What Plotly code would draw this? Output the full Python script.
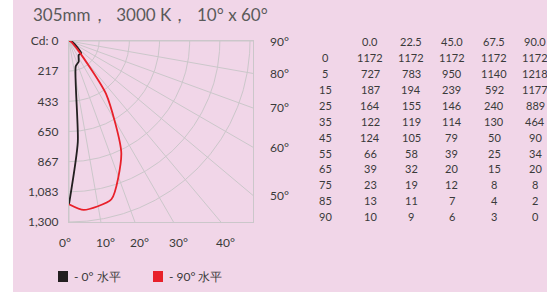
import numpy as np
import plotly.graph_objects as go

# ---------------- data ----------------
title_text = "305mm，  3000 K，  10° x 60°"
angles = [0, 5, 15, 25, 35, 45, 55, 65, 75, 85, 90]
planes = ["0.0", "22.5", "45.0", "67.5", "90.0"]
cd_0 = [1172, 727, 187, 164, 122, 124, 66, 39, 23, 13, 10]
cd_22_5 = [1172, 783, 194, 155, 119, 105, 58, 32, 19, 11, 9]
cd_45 = [1172, 950, 239, 146, 114, 79, 39, 20, 12, 7, 6]
cd_67_5 = [1172, 1140, 592, 240, 130, 50, 25, 15, 8, 4, 3]
cd_90 = [1172, 1218, 1177, 889, 464, 90, 34, 20, 8, 2, 0]
radial_ticks = [0, 216.67, 433.33, 650, 866.67, 1083.33, 1300]
radial_ticktext = ["Cd: 0", "217", "433", "650", "867", "1,083", "1,300"]
bottom_angle_labels = [0, 10, 20, 30, 40]
right_angle_labels = [90, 80, 70, 60, 50]
spoke_angles = list(range(0, 91, 10))
series_names = ["- 0° 水平", "- 90° 水平"]
series_colors = ["#231F20", "#E8202A"]

# ---------------- layout constants ----------------
W_FIG, H_FIG = 547, 292
L, T, PW, PH = 69, 41, 184, 181
R_MAX = 1300.0
X_MAX = R_MAX * PW / PH
BG = "#F1D6E8"
GRID = "#CBC7CA"
TXT = "#3A3A3A"
FONT = "Lato"


def px_x(x):
    return (x - L) / PW


def px_y(y):
    return (T + PH - y) / PH


fig = go.Figure()

# grid spokes
for a in spoke_angles:
    r = np.radians(a)
    fig.add_trace(go.Scatter(x=[0, 5000 * np.sin(r)], y=[0, 5000 * np.cos(r)],
                             mode="lines", line=dict(color=GRID, width=1),
                             hoverinfo="skip", showlegend=False))
# grid arcs
th = np.radians(np.linspace(0, 90, 181))
for rv in radial_ticks[1:]:
    fig.add_trace(go.Scatter(x=rv * np.sin(th), y=rv * np.cos(th), mode="lines",
                             line=dict(color=GRID, width=1),
                             hoverinfo="skip", showlegend=False))

# candela curves
ang = np.radians(angles)
for vals, name, col in [(cd_0, series_names[0], series_colors[0]),
                        (cd_90, series_names[1], series_colors[1])]:
    v = np.array(vals, dtype=float)
    fig.add_trace(go.Scatter(x=v * np.sin(ang), y=v * np.cos(ang), mode="lines",
                             line=dict(color=col, width=1.8, shape="spline", smoothing=0.6),
                             name=name, showlegend=False))

ann = []
# title
ann.append(dict(text=title_text, x=px_x(31), y=px_y(14), xref="paper", yref="paper",
                xanchor="left", yanchor="middle", showarrow=False,
                font=dict(family=FONT, size=17, color="#5A5A5A")))
# bottom angle labels
for a in bottom_angle_labels:
    xd = R_MAX * np.tan(np.radians(a))
    ann.append(dict(text=f"{a}°", x=xd, y=px_y(242), xref="x", yref="paper",
                    xanchor="center", yanchor="middle", showarrow=False,
                    xshift=(-4 if a == 0 else 5),
                    font=dict(family=FONT, size=12, color=TXT)))
# right angle labels
for a in right_angle_labels:
    yd = X_MAX * np.cos(np.radians(a)) / np.sin(np.radians(a))
    ann.append(dict(text=f"{a}°", x=px_x(268), y=yd, xref="paper", yref="y",
                    xanchor="left", yanchor="middle", showarrow=False,
                    font=dict(family=FONT, size=12, color=TXT)))

# table
col_x = [370, 411, 452, 494, 535]
row_label_x = 325
header_y = 41.7
row_y0, row_dy = 57.6, 15.9
columns = [cd_0, cd_22_5, cd_45, cd_67_5, cd_90]
for cx, p in zip(col_x, planes):
    ann.append(dict(text=p, x=px_x(cx), y=px_y(header_y), xref="paper", yref="paper",
                    xanchor="center", yanchor="middle", showarrow=False,
                    font=dict(family=FONT, size=11, color=TXT)))
for i, a in enumerate(angles):
    yy = row_y0 + i * row_dy
    ann.append(dict(text=str(a), x=px_x(row_label_x), y=px_y(yy), xref="paper", yref="paper",
                    xanchor="center", yanchor="middle", showarrow=False,
                    font=dict(family=FONT, size=11, color=TXT)))
    for cx, col in zip(col_x, columns):
        ann.append(dict(text=str(col[i]), x=px_x(cx), y=px_y(yy), xref="paper", yref="paper",
                        xanchor="center", yanchor="middle", showarrow=False,
                        font=dict(family=FONT, size=11, color=TXT)))

# legend (squares + text) and white strip at the left edge
shapes = []
shapes.append(dict(type="rect", xref="paper", yref="paper", x0=px_x(0), x1=px_x(13),
                   y0=px_y(H_FIG), y1=px_y(0), fillcolor="white", line=dict(width=0),
                   layer="below"))
leg_y = 276.5
for sx, name, col in [(58, series_names[0], series_colors[0]),
                      (153, series_names[1], series_colors[1])]:
    shapes.append(dict(type="rect", xref="paper", yref="paper", x0=px_x(sx), x1=px_x(sx + 10),
                       y0=px_y(leg_y + 5.5), y1=px_y(leg_y - 5.5), fillcolor=col,
                       line=dict(width=0)))
    ann.append(dict(text=name, x=px_x(sx + 14), y=px_y(leg_y), xref="paper", yref="paper",
                    xanchor="left", yanchor="middle", showarrow=False,
                    font=dict(family=FONT, size=12, color=TXT)))

fig.update_layout(
    width=W_FIG, height=H_FIG,
    margin=dict(l=L, r=W_FIG - L - PW, t=T, b=H_FIG - T - PH, pad=0),
    paper_bgcolor=BG, plot_bgcolor=BG,
    annotations=ann, shapes=shapes, showlegend=False,
    xaxis=dict(range=[0, X_MAX], showgrid=False, zeroline=False, showticklabels=False,
               showline=True, mirror=True, linecolor=GRID, linewidth=1.2, fixedrange=True),
    yaxis=dict(range=[R_MAX, 0], showgrid=False, zeroline=False,
               tickvals=radial_ticks, ticktext=radial_ticktext, ticks="",
               ticklabelstandoff=7,
               tickfont=dict(family=FONT, size=12, color=TXT),
               showline=True, mirror=True, linecolor=GRID, linewidth=1.2, fixedrange=True),
)

fig.write_html("out.html", config={"displayModeBar": False},
               post_script="document.body.style.margin='0';document.body.style.overflow='hidden';")
